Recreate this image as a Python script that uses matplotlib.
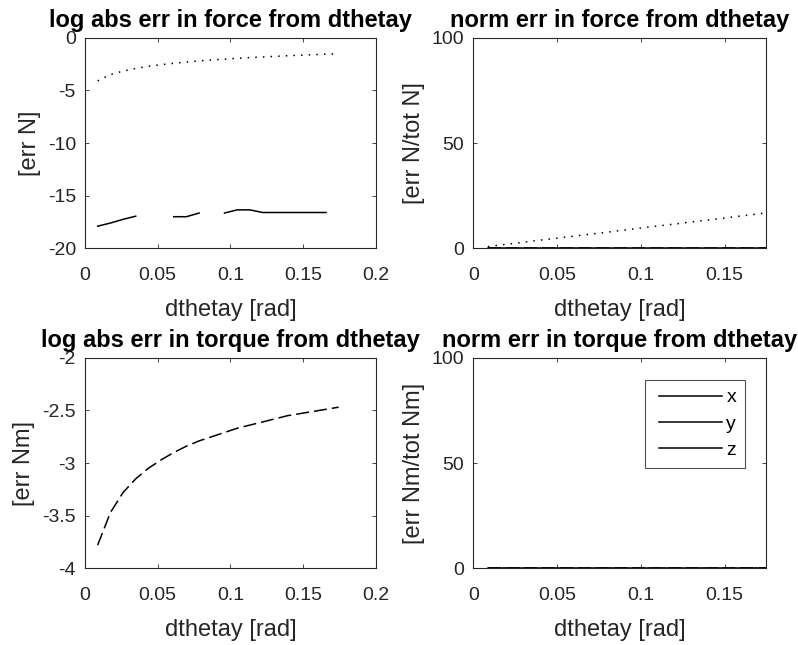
import numpy as np
import matplotlib
matplotlib.use("Agg")
import matplotlib.pyplot as plt
from matplotlib.legend_handler import HandlerLine2D

plt.rcParams['font.family'] = ['Liberation Sans', 'DejaVu Sans']

# rotation steps (rad), 0.5 deg .. 10 deg
dthetay = [0.0087, 0.0175, 0.0262, 0.0349, 0.0436, 0.0524, 0.0611, 0.0698, 0.0785, 0.0873,
           0.0960, 0.1047, 0.1134, 0.1222, 0.1309, 0.1396, 0.1484, 0.1571, 0.1658, 0.1745]

nan = np.nan
# log10 abs error in force (x solid, y dashed, z dotted); nan = exact zero
force_log_x = [-17.9, -17.6, -17.25, -16.95, nan, nan, -17.0, -17.0, -16.65, nan,
               -16.65, -16.35, -16.35, -16.6, -16.6, -16.6, -16.6, -16.6, -16.6, nan]
force_log_y = [nan] * 20
force_log_z = [-4.1, -3.5, -3.17, -2.92, -2.72, -2.56, -2.43, -2.31, -2.21, -2.12,
               -2.04, -1.96, -1.89, -1.83, -1.77, -1.71, -1.66, -1.61, -1.56, -1.52]

# normalised error in force [%]
force_norm_x = [0.0] * 20
force_norm_y = [0.0] * 20
force_norm_z = [0.8, 1.7, 2.5, 3.4, 4.2, 5.0, 5.9, 6.7, 7.5, 8.4,
                9.2, 10.1, 10.9, 11.7, 12.6, 13.4, 14.2, 15.1, 15.9, 16.8]

# log10 abs error in torque
torque_log_x = [nan] * 20
torque_log_y = [-3.78, -3.47, -3.28, -3.15, -3.05, -2.97, -2.9, -2.84, -2.79, -2.75,
                -2.71, -2.67, -2.64, -2.61, -2.58, -2.55, -2.53, -2.51, -2.49, -2.47]
torque_log_z = [nan] * 20

# normalised error in torque [%]
torque_norm_x = [0.0] * 20
torque_norm_y = [0.0] * 20
torque_norm_z = [0.0] * 20

labels = ['x', 'y', 'z']
styles = ['-', (0, (8.5, 3.3)), (0, (1, 4))]
axcol = '#262626'


class IndentedLine(HandlerLine2D):
    # matlab legends leave some space before the sample line
    def get_xdata(self, legend, xdescent, ydescent, width, height, fontsize):
        x0 = -xdescent + 0.3 * fontsize
        return np.array([x0, width - xdescent]), np.array([x0, width - xdescent])


fig = plt.figure(figsize=(7.98, 6.45), dpi=100)
W, H = 798, 645

def make_ax(left, top, right, bottom):
    return fig.add_axes([left / W, 1 - bottom / H, (right - left) / W, (bottom - top) / H])

ax1 = make_ax(85, 37.7, 375.7, 248.3)
ax2 = make_ax(473.3, 37.7, 765.7, 248.3)
ax3 = make_ax(85, 357.7, 375.7, 568.3)
ax4 = make_ax(473.3, 357.7, 765.7, 568.3)

panels = [
    (ax1, [force_log_x, force_log_y, force_log_z], 'log abs err in force from dthetay', '[err N]',
     (0, 0.2), [0, 0.05, 0.1, 0.15, 0.2], (-20, 0), [-20, -15, -10, -5, 0]),
    (ax2, [force_norm_x, force_norm_y, force_norm_z], 'norm err in force from dthetay', '[err N/tot N]',
     (0, dthetay[-1]), [0, 0.05, 0.1, 0.15], (0, 100), [0, 50, 100]),
    (ax3, [torque_log_x, torque_log_y, torque_log_z], 'log abs err in torque from dthetay', '[err Nm]',
     (0, 0.2), [0, 0.05, 0.1, 0.15, 0.2], (-4, -2), [-4, -3.5, -3, -2.5, -2]),
    (ax4, [torque_norm_x, torque_norm_y, torque_norm_z], 'norm err in torque from dthetay', '[err Nm/tot Nm]',
     (0, dthetay[-1]), [0, 0.05, 0.1, 0.15], (0, 100), [0, 50, 100]),
]

for ax, series, title, ylab, xl, xt, yl, yt in panels:
    for s, ls, lab in zip(series, styles, labels):
        ax.plot(dthetay, s, color='black', linestyle=ls, linewidth=1.1, label=lab)
    ax.set_xlim(*xl)
    ax.set_ylim(*yl)
    ax.set_xticks(xt)
    ax.set_yticks(yt)
    ax.set_xticklabels([f'{v:g}' for v in xt])
    ax.set_yticklabels([f'{v:g}' for v in yt])
    ax.set_title(title, fontsize=17, fontweight='bold', pad=8)
    ax.set_xlabel('dthetay [rad]', fontsize=17, color=axcol, labelpad=11)
    ax.set_ylabel(ylab, fontsize=17, color=axcol, labelpad=5)
    ax.tick_params(direction='in', top=True, right=True, length=3, width=0.6,
                   labelsize=14, colors=axcol)
    ax.tick_params(axis='x', pad=13.5)
    ax.tick_params(axis='y', pad=6.5)
    for sp in ax.spines.values():
        sp.set_color(axcol)
        sp.set_linewidth(0.8)

leg_handles = [plt.Line2D([], [], color='black', lw=1.1) for _ in labels]
leg = ax4.legend(handles=leg_handles, labels=labels,
                 loc='upper right', bbox_to_anchor=(0.929, 0.894), borderaxespad=0,
                 fontsize=14, frameon=True, fancybox=False, handlelength=3.5,
                 handletextpad=0.25, labelspacing=0.45, borderpad=0.45,
                 handler_map={plt.Line2D: IndentedLine()})
leg.get_frame().set_edgecolor(axcol)
leg.get_frame().set_linewidth(0.8)

fig.savefig('out.png', dpi=100)
